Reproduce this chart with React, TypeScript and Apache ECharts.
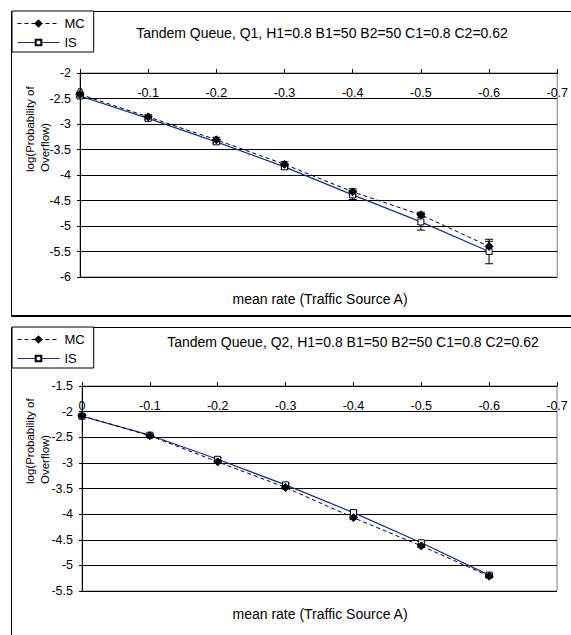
import React, { useEffect, useRef } from "react";
import * as echarts from "echarts";

// ---- data ----
const meanRates = [0, -0.1, -0.2, -0.3, -0.4, -0.5, -0.6];

const q1MC = [-2.42, -2.86, -3.31, -3.79, -4.33, -4.78, -5.4];
const q1IS = [-2.45, -2.89, -3.35, -3.84, -4.39, -4.92, -5.5];
const q1MCErr = [0.04, 0.04, 0.05, 0.05, 0.06, 0.05, 0.1];
const q1ISErr = [0.03, 0.03, 0.04, 0.05, 0.09, 0.16, 0.24];

const q2MC = [-2.08, -2.47, -2.98, -3.48, -4.07, -4.62, -5.21];
const q2IS = [-2.09, -2.46, -2.93, -3.43, -3.97, -4.56, -5.19];
const q2MCErr = [0.03, 0.03, 0.03, 0.03, 0.03, 0.03, 0.03];
const q2ISErr = [0.02, 0.02, 0.03, 0.03, 0.03, 0.03, 0.03];

const titles = [
  "Tandem Queue, Q1, H1=0.8 B1=50 B2=50 C1=0.8 C2=0.62",
  "Tandem Queue, Q2, H1=0.8 B1=50 B2=50 C1=0.8 C2=0.62",
];
const xTitle = "mean rate (Traffic Source A)";
const yTitle = "log(Probability of\nOverflow)";
const legendNames = ["MC", "IS"];

const FONT = "Liberation Sans, Arial, sans-serif";
const BLUE = "#1e2a9e";

function pairs(ys: number[]) {
  return meanRates.map((x, i) => [x, ys[i]]);
}
function errs(ys: number[], e: number[]) {
  return meanRates.map((x, i) => [x, ys[i] - e[i], ys[i] + e[i]]);
}

function renderErr(params: any, api: any) {
  const x = api.value(0);
  const lo = api.coord([x, api.value(1)]);
  const hi = api.coord([x, api.value(2)]);
  const w = 4;
  const st = { stroke: "#000", lineWidth: 1 };
  return {
    type: "group",
    children: [
      { type: "line", shape: { x1: lo[0], y1: lo[1], x2: hi[0], y2: hi[1] }, style: st },
      { type: "line", shape: { x1: lo[0] - w, y1: lo[1], x2: lo[0] + w, y2: lo[1] }, style: st },
      { type: "line", shape: { x1: hi[0] - w, y1: hi[1], x2: hi[0] + w, y2: hi[1] }, style: st },
    ],
  };
}

export default function App() {
  const ref = useRef<HTMLDivElement>(null);
  useEffect(() => {
    if (!ref.current) return;
    const chart = echarts.init(ref.current, null, { renderer: "svg" });

    const grids = [
      { left: 80, top: 73, width: 483, height: 204 },
      { left: 82, top: 386, width: 475, height: 205 },
    ];
    const yRanges = [
      [-6, -2],
      [-5.5, -1.5],
    ];

    const xAxis = grids.map((_, i) => ({
      type: "value",
      gridIndex: i,
      min: -0.7,
      max: 0,
      interval: 0.1,
      inverse: true,
      position: "top",
      axisLine: { show: true, lineStyle: { color: "#000", width: 1 } },
      axisTick: { show: true, inside: false, length: 4, lineStyle: { color: "#000" } },
      axisLabel: {
        inside: true,
        margin: 13,
        color: "#000",
        fontSize: 12.5,
        fontFamily: FONT,
        showMinLabel: true,
        showMaxLabel: true,
      },
      splitLine: { show: false },
    }));

    const yAxis = grids.map((_, i) => ({
      type: "value",
      gridIndex: i,
      min: yRanges[i][0],
      max: yRanges[i][1],
      interval: 0.5,
      axisLine: { show: true, onZero: false, lineStyle: { color: "#000", width: 1 } },
      axisTick: { show: true, length: 3, lineStyle: { color: "#000" } },
      axisLabel: { color: "#000", fontSize: 12.5, fontFamily: FONT, margin: 9 },
      splitLine: { show: true, lineStyle: { color: "#000", width: 1 } },
    }));

    const mkSeries = (i: number, mc: number[], is: number[], mcE: number[], isE: number[]) => [
      {
        type: "custom",
        name: "errIS" + i,
        xAxisIndex: i,
        yAxisIndex: i,
        silent: true,
        renderItem: renderErr,
        encode: { x: 0, y: [1, 2] },
        data: errs(is, isE),
        z: 3,
      },
      {
        type: "custom",
        name: "errMC" + i,
        xAxisIndex: i,
        yAxisIndex: i,
        silent: true,
        renderItem: renderErr,
        encode: { x: 0, y: [1, 2] },
        data: errs(mc, mcE),
        z: 3,
      },
      {
        type: "line",
        name: "IS",
        xAxisIndex: i,
        yAxisIndex: i,
        data: pairs(is),
        symbol: "rect",
        symbolSize: 6,
        showAllSymbol: true,
        lineStyle: { color: BLUE, width: 1.2, type: "solid" },
        itemStyle: { color: "#fff", borderColor: "#000", borderWidth: 1 },
        z: 4,
      },
      {
        type: "line",
        name: "MC",
        xAxisIndex: i,
        yAxisIndex: i,
        data: pairs(mc),
        symbol: "diamond",
        symbolSize: 8,
        showAllSymbol: true,
        lineStyle: { color: "#000", width: 1, type: [4, 3] },
        itemStyle: { color: "#000", borderColor: "#000", borderWidth: 1 },
        z: 5,
      },
    ];

    const legendTops = [11, 327];
    const legend = legendTops.map((t) => ({
      orient: "vertical",
      left: 12,
      top: t,
      data: legendNames,
      itemWidth: 42,
      itemHeight: 7,
      itemGap: 6,
      padding: [6, 9, 3, 5],
      borderColor: "#000",
      borderWidth: 1,
      backgroundColor: "#fff",
      lineStyle: { width: 1 },
      textStyle: { fontSize: 13, color: "#000", fontFamily: FONT },
      selectedMode: false,
    }));

    const txt = (x: number, y: number, text: string, size: number, extra: any = {}) => ({
      type: "text",
      x,
      y,
      silent: true,
      style: {
        text,
        fill: "#000",
        font: `${size}px ${FONT}`,
        textAlign: "center",
        textVerticalAlign: "middle",
        ...extra,
      },
    });

    const graphic: any[] = [
      {
        type: "rect",
        shape: { x: 11.5, y: 11.5, width: 570, height: 304 },
        style: { fill: "none", stroke: "#000", lineWidth: 1 },
        silent: true,
        z: -1,
      },
      {
        type: "line",
        shape: { x1: 11, y1: 316.5, x2: 571, y2: 316.5 },
        style: { stroke: "#000", lineWidth: 1 },
        silent: true,
        z: -1,
      },
      {
        type: "rect",
        shape: { x: 11.5, y: 327.5, width: 570, height: 400 },
        style: { fill: "none", stroke: "#000", lineWidth: 1 },
        silent: true,
        z: -1,
      },
      txt(322, 33, titles[0], 14),
      txt(353, 342, titles[1], 14),
      txt(320, 299, xTitle, 14),
      txt(320, 614, xTitle, 14),
      {
        ...txt(37, 172, yTitle, 11.5, { textAlign: "left", lineHeight: 15 }),
        rotation: Math.PI / 2,
      },
      {
        ...txt(37, 484, yTitle, 11.5, { textAlign: "left", lineHeight: 15 }),
        rotation: Math.PI / 2,
      },
    ];

    chart.setOption({
      animation: false,
      backgroundColor: "#fff",
      textStyle: { fontFamily: FONT },
      grid: grids.map((g) => ({
        ...g,
        show: true,
        borderColor: "#808080",
        borderWidth: 1,
        backgroundColor: "transparent",
      })),
      xAxis,
      yAxis,
      legend,
      graphic,
      series: [
        ...mkSeries(0, q1MC, q1IS, q1MCErr, q1ISErr),
        ...mkSeries(1, q2MC, q2IS, q2MCErr, q2ISErr),
      ],
    });
    return () => chart.dispose();
  }, []);
  return (
    <div
      ref={ref}
      style={{ position: "absolute", left: 0, top: 0, width: 571, height: 635 }}
    />
  );
}
